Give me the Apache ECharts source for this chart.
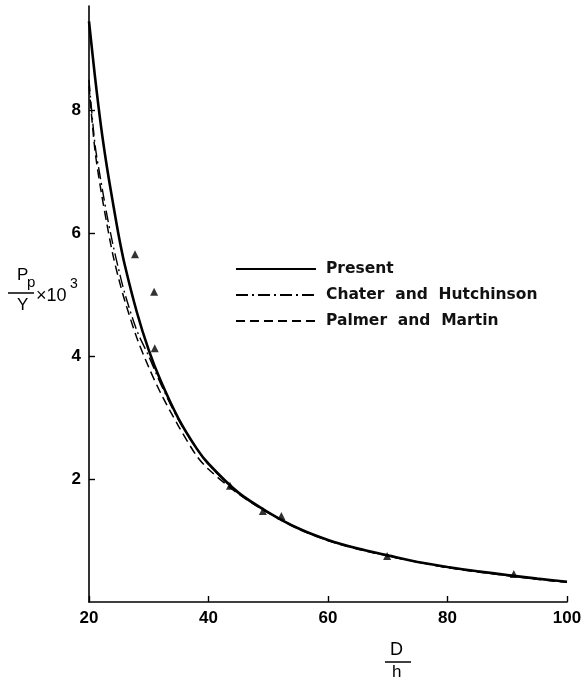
<!DOCTYPE html>
<html>
<head>
<meta charset="utf-8">
<script src="https://cdn.jsdelivr.net/npm/echarts@6/dist/echarts.min.js"></script>
<style>
  html, body { margin: 0; padding: 0; background: #fff; }
  #main { width: 588px; height: 682px; }
</style>
</head>
<body>
<div id="main"></div>
<script>
// D/h values where the curves were read
var ratio = [20, 21, 22, 23, 24, 25, 26, 28, 30, 32, 35, 38, 40, 45, 50, 55, 60, 65, 70, 75, 80, 85, 90, 95, 100];
// Pp/Y x 10^3
var present = [9.45, 8.55, 7.75, 7.08, 6.5, 5.95, 5.48, 4.72, 4.1, 3.6, 2.98, 2.5, 2.25, 1.78, 1.46, 1.2, 1.01, 0.87, 0.76, 0.65, 0.57, 0.5, 0.44, 0.38, 0.33];
var chater  = [8.5, 7.45, 6.85, 6.3, 5.82, 5.4, 5.02, 4.42, 4.0, 3.55, 2.96, 2.5, 2.24, 1.78, 1.46, 1.2, 1.0, 0.87, 0.75, 0.65, 0.56, 0.5, 0.43, 0.38, 0.32];
var palmer  = [8.4, 7.35, 6.7, 6.15, 5.65, 5.25, 4.9, 4.3, 3.82, 3.4, 2.86, 2.38, 2.16, 1.76, 1.45, 1.19, 1.0, 0.86, 0.75, 0.65, 0.56, 0.49, 0.43, 0.37, 0.32];
// experimental points (triangles)
var expX = [27.7, 30.9, 31.0, 43.6, 49.1, 52.2, 69.9, 91.1];
var expY = [5.66, 5.05, 4.13, 1.89, 1.48, 1.40, 0.75, 0.455];

var yTicks = [2, 4, 6, 8];

function pairs(xs, ys) {
    return xs.map(function (x, i) { return [x, ys[i]]; });
}

var axisFont = { fontFamily: 'Liberation Sans', fontWeight: 'bold', fontSize: 17, color: '#000' };
var nameFont = 'Liberation Sans';

option = {
    backgroundColor: '#fff',
    animation: false,
    color: ['#000', '#000', '#000', '#000'],
    grid: { left: 89, right: 21, top: 6, bottom: 80 },
    legend: {
        orient: 'vertical',
        left: 230, top: 256,
        itemWidth: 80, itemHeight: 14, itemGap: 10,
        itemStyle: { opacity: 0 },
        data: ['Present', 'Chater  and  Hutchinson', 'Palmer  and  Martin'],
        textStyle: { fontFamily: 'DejaVu Sans', fontWeight: 'bold', fontSize: 15.5, color: '#111', padding: [0, 0, 0, 5] }
    },
    xAxis: {
        type: 'value', min: 20, max: 100, interval: 20,
        axisLine: { lineStyle: { color: '#000', width: 1.6 } },
        axisTick: { inside: true, length: 6, lineStyle: { color: '#000', width: 1.4 } },
        axisLabel: Object.assign({ margin: 8 }, axisFont),
        splitLine: { show: false }
    },
    yAxis: {
        type: 'value', min: 0, max: 9.7,
        axisLine: { show: true, lineStyle: { color: '#000', width: 1.6 } },
        axisTick: { inside: true, length: 6, customValues: yTicks, lineStyle: { color: '#000', width: 1.4 } },
        axisLabel: Object.assign({ margin: 8, customValues: yTicks }, axisFont),
        splitLine: { show: false }
    },
    graphic: [
        // y axis title: Pp / Y x 10^3
        { type: 'text', left: 17, top: 267, style: { text: 'P', font: '17px ' + nameFont, fill: '#000' } },
        { type: 'text', left: 27, top: 275, style: { text: 'p', font: '15px ' + nameFont, fill: '#000' } },
        { type: 'line', shape: { x1: 8, y1: 293, x2: 34, y2: 293 }, style: { stroke: '#000', lineWidth: 1.5 } },
        { type: 'text', left: 17, top: 297, style: { text: 'Y', font: '17px ' + nameFont, fill: '#000' } },
        { type: 'text', left: 36, top: 287, style: { text: '\u00d710', font: '18px ' + nameFont, fill: '#000' } },
        { type: 'text', left: 70, top: 277, style: { text: '3', font: '14px ' + nameFont, fill: '#000' } },
        // x axis title: D / h
        { type: 'text', left: 390, top: 641, style: { text: 'D', font: '18px ' + nameFont, fill: '#000' } },
        { type: 'line', shape: { x1: 385, y1: 662, x2: 411, y2: 662 }, style: { stroke: '#000', lineWidth: 1.5 } },
        { type: 'text', left: 392, top: 664, style: { text: 'h', font: '17px ' + nameFont, fill: '#000' } }
    ],
    series: [
        {
            name: 'Present', type: 'line', smooth: 0.3, symbol: 'none',
            lineStyle: { color: '#000', width: 2.6 },
            data: pairs(ratio, present), z: 5
        },
        {
            name: 'Chater  and  Hutchinson', type: 'line', smooth: 0.3, symbol: 'none',
            lineStyle: { color: '#000', width: 1.4, type: [12, 4, 2, 4] },
            data: pairs(ratio, chater), z: 4
        },
        {
            name: 'Palmer  and  Martin', type: 'line', smooth: 0.3, symbol: 'none',
            lineStyle: { color: '#000', width: 1.5, type: [9, 5] },
            data: pairs(ratio, palmer), z: 3
        },
        {
            name: 'Experiment', type: 'scatter', symbol: 'triangle', symbolSize: 8,
            itemStyle: { color: '#000' },
            data: pairs(expX, expY), z: 6
        }
    ]
};

var myChart = echarts.init(document.getElementById('main'));
myChart.setOption(option);
</script>
</body>
</html>
